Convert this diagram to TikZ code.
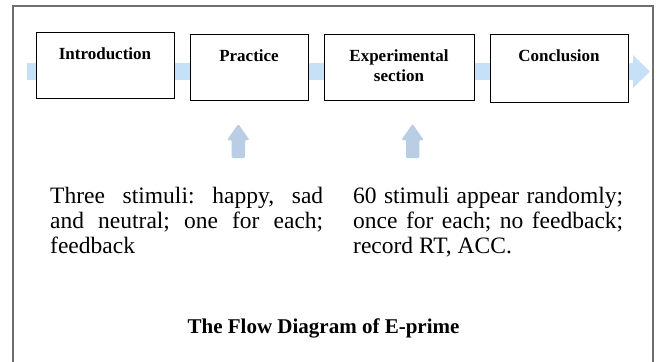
\documentclass[tikz,border=0pt]{standalone}
\usepackage{fontspec}
\setmainfont{Liberation Serif}
\definecolor{framegray}{HTML}{6E6E6E}
\definecolor{bandblue}{HTML}{C6E0F8}
\definecolor{arrowblue}{HTML}{B9CDE5}
\frenchspacing
\begin{document}
\begin{tikzpicture}[x=1pt,y=-1pt,
  stagebox/.style={draw=black, line width=1.2pt, fill=white, inner sep=0pt, anchor=north west},
  lbl/.style={font=\fontsize{17}{20}\selectfont\bfseries, align=center, anchor=base, inner sep=0pt},
  uparrowshape/.style={fill=arrowblue, draw=none, rounded corners=1.2pt},
  bodytext/.style={inner sep=0pt, anchor=base west}
]
\useasboundingbox (0,0) rectangle (657,362);
% outer frame
\draw[framegray, line width=2pt] (13,375) -- (13,6) -- (653,6) -- (653,375);
% flow band
\fill[bandblue] (27,63) rectangle (633,80);
\fill[bandblue] (633,55) -- (650,71.5) -- (633,88) -- cycle;
% stage boxes
\node[stagebox, minimum width=138pt, minimum height=66pt] (intro) at (36,32) {};
\node[stagebox, minimum width=118pt, minimum height=66pt] (prac) at (190,34) {};
\node[stagebox, minimum width=150pt, minimum height=66pt] (exper) at (324,34) {};
\node[stagebox, minimum width=138pt, minimum height=68pt] (concl) at (490,34) {};
% labels
\node[lbl] (introlbl) at (105,59) {Introduction};
\node[lbl] (praclbl) at (249,61) {Practice};
\node[lbl] (experlbl) at (399,81) {Experimental\\section};
\node[lbl] (concllbl) at (559,61) {Conclusion};
% up arrows
\fill[uparrowshape] (231.7,158) -- (231.7,140) -- (227,140) -- (238.3,124) -- (249.5,140) -- (245,140) -- (245,158) -- cycle;
\fill[uparrowshape] (406,158) -- (406,140) -- (401.3,140) -- (412.6,124) -- (423.8,140) -- (419.3,140) -- (419.3,158) -- cycle;
% texts
\node[bodytext] (lefttext) at (50,203) {\parbox[t]{273pt}{\fontsize{23.5}{25.4}\selectfont
  \makebox[273pt][s]{Three stimuli: happy, sad}\\
  \makebox[273pt][s]{and neutral; one for each;}\\
  feedback}};
\node[bodytext] (righttext) at (353,203) {\parbox[t]{270pt}{\fontsize{23.5}{25.4}\selectfont
  \makebox[270pt][s]{60 stimuli appear randomly;}\\
  \makebox[270pt][s]{once for each; no feedback;}\\
  record RT, ACC.}};
% title
\node[font=\fontsize{21}{25}\selectfont\bfseries, anchor=base, inner sep=0pt] (title) at (323.5,333) {The Flow Diagram of E-prime};
\end{tikzpicture}
\end{document}
